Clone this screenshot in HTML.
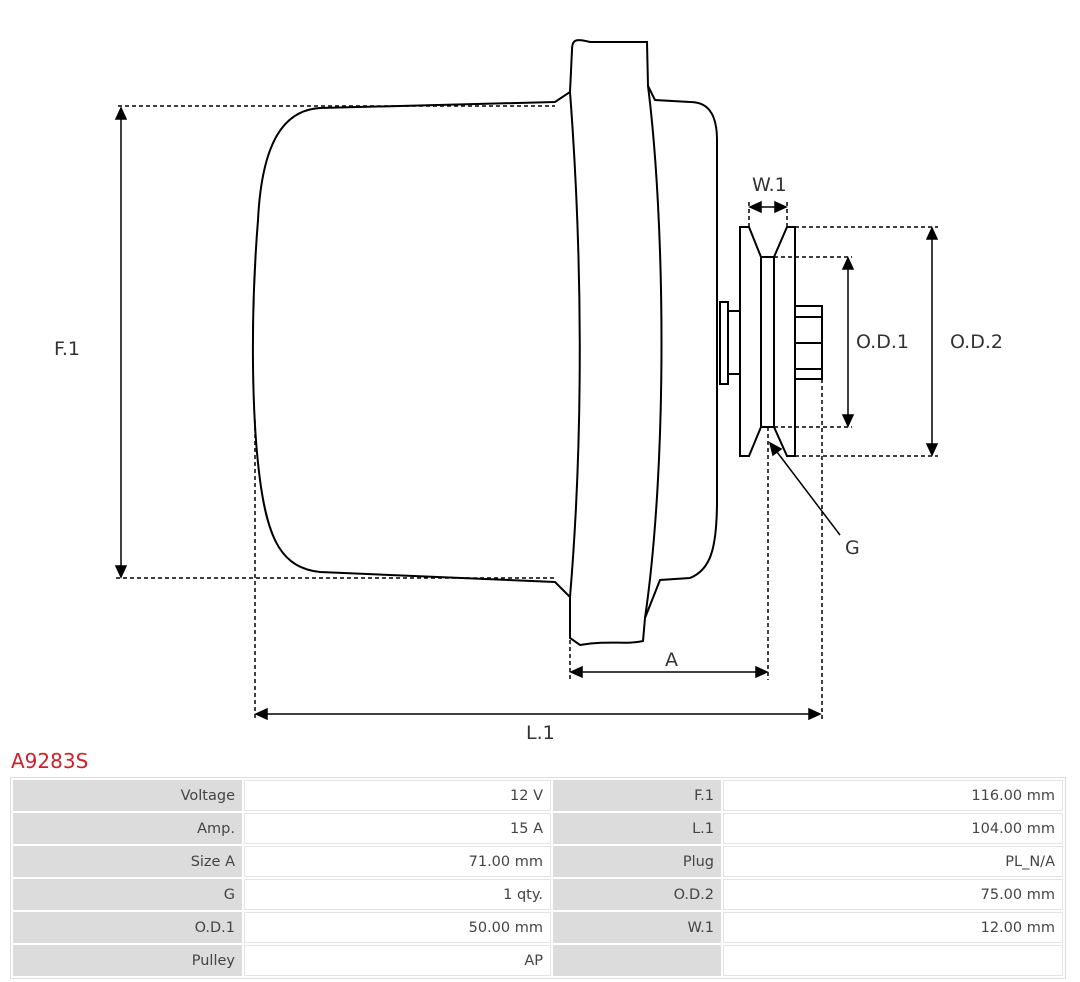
<!DOCTYPE html>
<html><head><style>
body{margin:0;background:#fff;width:1080px;height:982px;overflow:hidden;font-family:"DejaVu Sans","Liberation Sans",sans-serif;}
svg{position:absolute;left:0;top:0}
.t{font-family:"DejaVu Sans",sans-serif;font-size:19px;fill:#333}
#title{position:absolute;left:11px;top:749px;color:#d0202a;font-size:20px}
table{position:absolute;left:10px;top:777px;border-collapse:separate;border-spacing:2px;border:1px solid #ddd;width:1056px}
td{height:29px;font-size:14.5px;color:#444;text-align:right;padding:0 7px;}
td.g{background:#dcdcdc}
td.w{background:#fff;border:1px solid #e4e4e4}
</style></head><body>
<svg width="1080" height="740" viewBox="0 0 1080 740">
<g fill="none" stroke="#000" stroke-width="2">
<path d="M555,102 L320,108 C285,110 262,140 258,220 C250,320 252,420 260,480 C268,540 282,568 320,572 L555,582 L570,597 L570,638 L580,645 C610,640 625,645 643,641 L645,618 L660,580 L690,578 C710,570 717,550 717,500 L717,140 C717,110 705,102 690,102 L655,100 L648,86 L647,42 L590,42 C575,38 572,40 572,50 L570,92 Z"/>
<path d="M570,92 C582,250 584,430 570,597"/>
<path d="M648,86 C665,220 668,460 645,618"/>
<rect x="720" y="302" width="8" height="82"/>
<rect x="728" y="311" width="12" height="63"/>
<path d="M740,227 L749,227 L761,257 L774,257 L787,227 L795,227 L795,456 L787,456 L774,427 L761,427 L749,456 L740,456 Z"/>
<rect x="761" y="257" width="13" height="170"/>
<rect x="795" y="306" width="27" height="73"/>
<path d="M795,317 H822 M795,343 H822 M795,369 H822"/>
</g>
<g fill="none" stroke="#000" stroke-width="1.5" stroke-dasharray="4,3">
<path d="M118,106 H555 M116,578 H555"/>
<path d="M795,227 H938 M774,257 H852 M774,427 H852 M795,456 H938"/>
<path d="M749,227 V200 M787,227 V200"/>
<path d="M255,420 V720 M570,640 V680 M768,427 V680 M822,379 V720"/>
</g>
<g stroke="#000" stroke-width="1.5" fill="#000">
<line x1="121" y1="112" x2="121" y2="572"/>
<path d="M121,108 l-5,11 h10z M121,577 l-5,-11 h10z"/>
<line x1="848" y1="262" x2="848" y2="422"/>
<path d="M848,258 l-5,11 h10z M848,426 l-5,-11 h10z"/>
<line x1="932" y1="232" x2="932" y2="452"/>
<path d="M932,228 l-5,11 h10z M932,455 l-5,-11 h10z"/>
<line x1="752" y1="207" x2="784" y2="207"/>
<path d="M750,207 l11,-5 v10z M786,207 l-11,-5 v10z"/>
<line x1="574" y1="672" x2="764" y2="672"/>
<path d="M571,672 l11,-5 v10z M767,672 l-11,-5 v10z"/>
<line x1="260" y1="714" x2="816" y2="714"/>
<path d="M256,714 l11,-5 v10z M820,714 l-11,-5 v10z"/>
<line x1="840" y1="535" x2="774" y2="448"/>
<path d="M770,443 l3,12 l8,-6z"/>
</g>
<text class="t" x="54" y="355">F.1</text>
<text class="t" x="752" y="191">W.1</text>
<text class="t" x="856" y="348">O.D.1</text>
<text class="t" x="950" y="348">O.D.2</text>
<text class="t" x="845" y="554">G</text>
<text class="t" x="665" y="666">A</text>
<text class="t" x="526" y="739">L.1</text>
</svg>
<div id="title">A9283S</div>
<table>
<tr><td class="g" style="width:215px">Voltage</td><td class="w" style="width:291px">12 V</td><td class="g" style="width:154px">F.1</td><td class="w">116.00 mm</td></tr>
<tr><td class="g">Amp.</td><td class="w">15 A</td><td class="g">L.1</td><td class="w">104.00 mm</td></tr>
<tr><td class="g">Size A</td><td class="w">71.00 mm</td><td class="g">Plug</td><td class="w">PL_N/A</td></tr>
<tr><td class="g">G</td><td class="w">1 qty.</td><td class="g">O.D.2</td><td class="w">75.00 mm</td></tr>
<tr><td class="g">O.D.1</td><td class="w">50.00 mm</td><td class="g">W.1</td><td class="w">12.00 mm</td></tr>
<tr><td class="g">Pulley</td><td class="w">AP</td><td class="g"></td><td class="w"></td></tr>
</table>
</body></html>
